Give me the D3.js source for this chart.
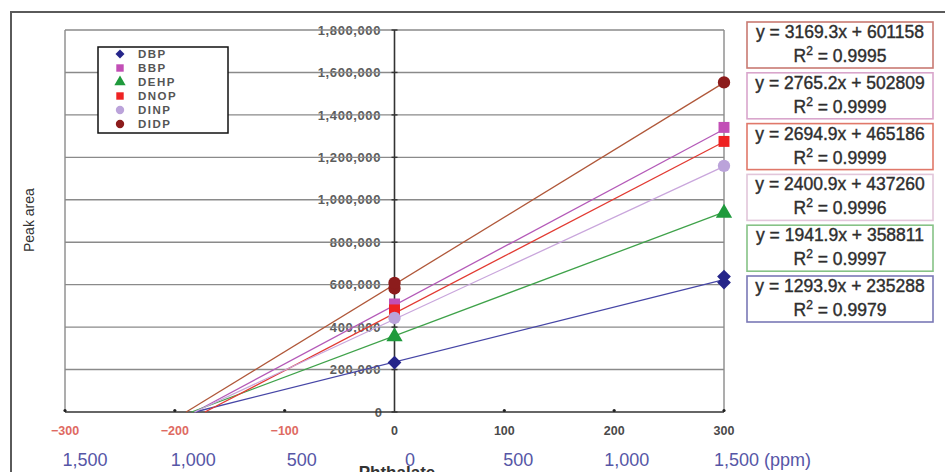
<!DOCTYPE html>
<html lang="en">
<head>
    <meta charset="UTF-8">
    <title>Phthalate calibration</title>
    <script src="https://d3js.org/d3.v7.min.js"></script>
    <style>
        html, body {
            margin: 0;
            padding: 0;
            background: #ffffff;
            overflow: hidden;
        }
        svg text {
            font-family: "Liberation Sans", Arial, sans-serif;
        }
    </style>
</head>
<body>
<div id="chart"></div>

<script>
    // series names, in legend order
    const series = ['DBP', 'BBP', 'DEHP', 'DNOP', 'DINP', 'DIDP'];
    // trendline fits
    const slopes = [1293.9, 2765.2, 1941.9, 2694.9, 2400.9, 3169.3];
    const intercepts = [235288, 502809, 358811, 465186, 437260, 601158];
    const r2 = ['0.9979', '0.9999', '0.9997', '0.9999', '0.9996', '0.9995'];
    // measured points (concentration, peak area)
    const pointsDBP = [[0, 233000], [300, 610000], [300, 638000]];
    const pointsBBP = [[0, 509000], [300, 1341000]];
    const pointsDEHP = [[0, 355000], [300, 937000]];
    const pointsDNOP = [[0, 481000], [300, 1275000]];
    const pointsDINP = [[0, 443000], [300, 1160000]];
    const pointsDIDP = [[0, 582000], [0, 608000], [300, 1553000]];
    const points = [pointsDBP, pointsBBP, pointsDEHP, pointsDNOP, pointsDINP, pointsDIDP];
    // axis ticks
    const xTicks = [-300, -200, -100, 0, 100, 200, 300];
    const ppmTicks = [-300, -200, -100, 0, 100, 200, 300];
    const yTicks = [0, 200000, 400000, 600000, 800000, 1000000, 1200000, 1400000, 1600000, 1800000];
    // equation boxes, top to bottom
    const boxOrder = ['DIDP', 'BBP', 'DNOP', 'DINP', 'DEHP', 'DBP'];

    const markerColor = {
        DBP: '#25258a', BBP: '#c24fb6', DEHP: '#1f9a3c',
        DNOP: '#ee2222', DINP: '#bba3da', DIDP: '#8c1c1c'
    };
    const lineColor = {
        DBP: '#4646a6', BBP: '#b45ab8', DEHP: '#3fa24a',
        DNOP: '#e23a32', DINP: '#c9a6dc', DIDP: '#b0583a'
    };
    const boxColor = {
        DBP: '#7a78b6', BBP: '#d9a6cc', DEHP: '#86c286',
        DNOP: '#e0786a', DINP: '#e2c6da', DIDP: '#c97a72'
    };
    // diamonds are squares turned 45 degrees
    const markerShape = {
        DBP: d3.symbolSquare, BBP: d3.symbolSquare, DEHP: d3.symbolTriangle,
        DNOP: d3.symbolSquare, DINP: d3.symbolCircle, DIDP: d3.symbolCircle
    };
    const markerTurn = { DBP: 45, BBP: 0, DEHP: 0, DNOP: 0, DINP: 0, DIDP: 0 };

    const width = 945, height = 472;
    const plot = { left: 65, right: 724, top: 30, bottom: 412 };

    const svg = d3.select('#chart').append('svg')
        .attr('width', width)
        .attr('height', height);

    const x = d3.scaleLinear().domain([-300, 300]).range([plot.left, plot.right]);
    const xPpm = d3.scaleLinear().domain([-300, 300]).range([85, 735]);
    const y = d3.scaleLinear().domain([0, 1800000]).range([plot.bottom, plot.top]);

    // outer frame (runs off the picture)
    svg.append('path')
        .attr('d', `M11,${height + 10}V12H${width + 10}`)
        .attr('fill', 'none')
        .attr('stroke', '#5a5a5a')
        .attr('stroke-width', 2);

    // y tick labels sit under the grid lines
    svg.append('g').selectAll('text')
        .data(yTicks)
        .join('text')
        .attr('x', d => d === 0 ? 382 : 381)
        .attr('y', d => y(d))
        .attr('dy', '0.36em')
        .attr('text-anchor', 'end')
        .attr('font-size', 13)
        .attr('font-weight', 'bold')
        .attr('letter-spacing', d => d === 0 ? 0 : 0.6)
        .attr('fill', '#5c5c5c')
        .text(d => d3.format(',')(d));

    // grid
    svg.append('g').selectAll('line')
        .data(yTicks.filter(d => d > 0))
        .join('line')
        .attr('x1', plot.left)
        .attr('x2', plot.right)
        .attr('y1', d => y(d))
        .attr('y2', d => y(d))
        .attr('stroke', '#8a8a8a')
        .attr('stroke-width', 1.4);

    svg.append('line')
        .attr('x1', plot.left).attr('x2', plot.left)
        .attr('y1', plot.top).attr('y2', plot.bottom)
        .attr('stroke', '#8a8a8a').attr('stroke-width', 1.4);
    svg.append('line')
        .attr('x1', plot.right).attr('x2', plot.right)
        .attr('y1', plot.top).attr('y2', plot.bottom)
        .attr('stroke', '#8a8a8a').attr('stroke-width', 1.4);

    // y axis at x = 0
    svg.append('line')
        .attr('x1', x(0)).attr('x2', x(0))
        .attr('y1', plot.top).attr('y2', plot.bottom)
        .attr('stroke', '#333').attr('stroke-width', 1.6);
    svg.append('g').selectAll('line')
        .data(yTicks)
        .join('line')
        .attr('x1', x(0) - 3)
        .attr('x2', x(0) + 3)
        .attr('y1', d => y(d))
        .attr('y2', d => y(d))
        .attr('stroke', '#333')
        .attr('stroke-width', 1.4);

    // x axis
    svg.append('line')
        .attr('x1', plot.left).attr('x2', plot.right)
        .attr('y1', plot.bottom).attr('y2', plot.bottom)
        .attr('stroke', '#333').attr('stroke-width', 1.6);
    svg.append('g').selectAll('circle')
        .data(xTicks.filter(d => d !== 0))
        .join('circle')
        .attr('cx', d => x(d))
        .attr('cy', plot.bottom - 1.5)
        .attr('r', 1.6)
        .attr('fill', '#222');

    svg.append('g').selectAll('text')
        .data(xTicks)
        .join('text')
        .attr('x', d => x(d))
        .attr('y', 435)
        .attr('text-anchor', 'middle')
        .attr('font-size', 12.5)
        .attr('font-weight', 'bold')
        .attr('fill', d => d < 0 ? '#de6a62' : '#4a4a4a')
        .text(d => d < 0 ? '\u2212' + Math.abs(d) : d);

    svg.append('g').selectAll('text')
        .data(ppmTicks)
        .join('text')
        .attr('x', d => xPpm(d))
        .attr('y', 466)
        .attr('text-anchor', d => d === 300 ? 'start' : 'middle')
        .attr('dx', d => d === 300 ? -21 : 0)
        .attr('font-size', 18)
        .attr('fill', '#5656a6')
        .text(d => d3.format(',')(Math.abs(d) * 5) + (d === 300 ? ' (ppm)' : ''));

    svg.append('text')
        .attr('x', 397)
        .attr('y', 478)
        .attr('text-anchor', 'middle')
        .attr('font-size', 17)
        .attr('font-weight', 'bold')
        .attr('fill', '#333')
        .text('Phthalate');

    svg.append('text')
        .attr('transform', 'translate(34,252) rotate(-90)')
        .attr('text-anchor', 'start')
        .attr('font-size', 14)
        .attr('fill', '#333')
        .text('Peak area');

    // trendlines, from the x-intercept up to 300
    const line = d3.line()
        .x(d => x(d[0]))
        .y(d => y(d[1]));

    series.forEach((name, i) => {
        const x0 = -intercepts[i] / slopes[i];
        svg.append('path')
            .datum([[x0, 0], [300, slopes[i] * 300 + intercepts[i]]])
            .attr('d', line)
            .attr('fill', 'none')
            .attr('stroke', lineColor[name])
            .attr('stroke-width', 1.3);
    });

    // markers
    series.forEach((name, i) => {
        const shape = markerShape[name];
        const size = name === 'DBP' ? 95 : shape === d3.symbolTriangle ? 115 : 120;
        svg.append('g').selectAll('path')
            .data(points[i])
            .join('path')
            .attr('transform', d => `translate(${x(d[0])},${y(d[1])}) rotate(${markerTurn[name]})`)
            .attr('d', d3.symbol().type(shape).size(size))
            .attr('fill', markerColor[name]);
    });

    // legend
    const legend = svg.append('g');
    legend.append('rect')
        .attr('x', 98).attr('y', 47)
        .attr('width', 130).attr('height', 86)
        .attr('fill', '#fff')
        .attr('stroke', '#111')
        .attr('stroke-width', 1.5);

    series.forEach((name, i) => {
        const ly = 54 + i * 14;
        legend.append('path')
            .attr('transform', `translate(120,${ly}) rotate(${markerTurn[name]})`)
            .attr('d', d3.symbol().type(markerShape[name]).size(name === 'DBP' ? 40 : 55))
            .attr('fill', markerColor[name]);
        legend.append('text')
            .attr('x', 138)
            .attr('y', ly)
            .attr('dy', '0.36em')
            .attr('font-size', 11.5)
            .attr('font-weight', 'bold')
            .attr('letter-spacing', 1.5)
            .attr('fill', '#555')
            .text(name);
    });

    // equation boxes
    boxOrder.forEach((name, k) => {
        const i = series.indexOf(name);
        const top = 22 + k * 50.8;
        const g = svg.append('g');
        g.append('rect')
            .attr('x', 747).attr('y', top)
            .attr('width', 186).attr('height', 46)
            .attr('fill', '#fff')
            .attr('stroke', boxColor[name])
            .attr('stroke-width', 1.6);
        g.append('text')
            .attr('x', 840)
            .attr('y', top + 16)
            .attr('text-anchor', 'middle')
            .attr('font-size', 17.5)
            .attr('fill', '#2e2e2e')
            .attr('stroke', '#2e2e2e')
            .attr('stroke-width', 0.4)
            .text(`y = ${slopes[i].toFixed(1)}x + ${intercepts[i]}`);
        const r = g.append('text')
            .attr('x', 840)
            .attr('y', top + 40)
            .attr('text-anchor', 'middle')
            .attr('font-size', 17.5)
            .attr('fill', '#2e2e2e')
            .attr('stroke', '#2e2e2e')
            .attr('stroke-width', 0.4);
        r.append('tspan').text('R');
        r.append('tspan').attr('dy', -7).attr('font-size', 12).text('2');
        r.append('tspan').attr('dy', 7).text(` = ${r2[i]}`);
    });
</script>
</body>
</html>
